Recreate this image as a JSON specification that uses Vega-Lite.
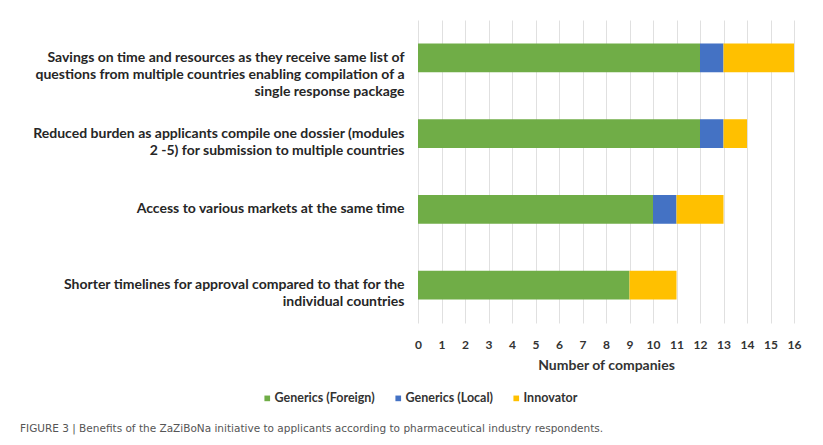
{
  "$schema": "https://vega.github.io/schema/vega-lite/v6.json",
  "width": 376,
  "height": 303,
  "padding": {"left": 10, "top": 20, "right": 29, "bottom": 5},
  "background": "white",
  "title": {
    "text": "FIGURE 3 | Benefits of the ZaZiBoNa initiative to applicants according to pharmaceutical industry respondents.",
    "orient": "bottom",
    "anchor": "start",
    "frame": "bounds",
    "dx": 10,
    "offset": 19,
    "font": "DejaVu Sans",
    "fontSize": 10.5,
    "fontWeight": "normal",
    "color": "#555555"
  },
  "data": {
    "values": [
      {"benefit": "Savings on time and resources as they receive same list of|questions from multiple countries enabling compilation of a|single response package", "type": "Generics (Foreign)", "order": 1, "count": 12},
      {"benefit": "Savings on time and resources as they receive same list of|questions from multiple countries enabling compilation of a|single response package", "type": "Generics (Local)", "order": 2, "count": 1},
      {"benefit": "Savings on time and resources as they receive same list of|questions from multiple countries enabling compilation of a|single response package", "type": "Innovator", "order": 3, "count": 3},
      {"benefit": "Reduced burden as applicants compile one dossier (modules|2 -5) for submission to multiple countries", "type": "Generics (Foreign)", "order": 1, "count": 12},
      {"benefit": "Reduced burden as applicants compile one dossier (modules|2 -5) for submission to multiple countries", "type": "Generics (Local)", "order": 2, "count": 1},
      {"benefit": "Reduced burden as applicants compile one dossier (modules|2 -5) for submission to multiple countries", "type": "Innovator", "order": 3, "count": 1},
      {"benefit": "Access to various markets at the same time", "type": "Generics (Foreign)", "order": 1, "count": 10},
      {"benefit": "Access to various markets at the same time", "type": "Generics (Local)", "order": 2, "count": 1},
      {"benefit": "Access to various markets at the same time", "type": "Innovator", "order": 3, "count": 2},
      {"benefit": "Shorter timelines for approval compared to that for the|individual countries", "type": "Generics (Foreign)", "order": 1, "count": 9},
      {"benefit": "Shorter timelines for approval compared to that for the|individual countries", "type": "Generics (Local)", "order": 2, "count": 0},
      {"benefit": "Shorter timelines for approval compared to that for the|individual countries", "type": "Innovator", "order": 3, "count": 2}
    ]
  },
  "mark": {"type": "bar"},
  "encoding": {
    "y": {
      "field": "benefit",
      "type": "nominal",
      "sort": null,
      "scale": {"paddingInner": 0.62, "paddingOuter": 0.31},
      "axis": {
        "title": null,
        "domain": false,
        "ticks": false,
        "labelPadding": 14,
        "labelExpr": "split(datum.label, '|')",
        "labelFont": "Lato",
        "labelFontWeight": "bold",
        "labelFontSize": 14,
        "labelLineHeight": 17,
        "labelColor": "#262626",
        "labelLimit": 0,
        "minExtent": 408,
        "maxExtent": 408
      }
    },
    "x": {
      "field": "count",
      "type": "quantitative",
      "stack": "zero",
      "scale": {"domain": [0, 16], "nice": false},
      "axis": {
        "title": "Number of companies",
        "values": [0,1,2,3,4,5,6,7,8,9,10,11,12,13,14,15,16],
        "labelOverlap": false,
        "labelFlush": false,
        "domain": false,
        "ticks": false,
        "grid": true,
        "gridColor": "#e0e0e0",
        "gridWidth": 1,
        "labelPadding": 16,
        "labelFont": "Lato",
        "labelFontWeight": "bold",
        "labelFontSize": 12,
        "labelColor": "#333333",
        "titleFont": "Lato",
        "titleFontWeight": "bold",
        "titleFontSize": 14,
        "titleColor": "#333333",
        "titlePadding": 8
      }
    },
    "color": {
      "field": "type",
      "type": "nominal",
      "scale": {
        "domain": ["Generics (Foreign)", "Generics (Local)", "Innovator"],
        "range": ["#70AD47", "#4472C4", "#FFC000"]
      },
      "legend": {
        "title": null,
        "orient": "none",
        "direction": "horizontal",
        "legendX": -157,
        "legendY": 372,
        "symbolType": "square",
        "symbolSize": 32,
        "symbolStrokeWidth": 0,
        "columnPadding": 17,
        "labelFont": "Lato",
        "labelFontWeight": "bold",
        "labelFontSize": 12.5,
        "labelColor": "#333333",
        "labelOffset": 1
      }
    },
    "order": {"field": "order", "type": "quantitative"}
  },
  "config": {
    "view": {"stroke": null}
  }
}
